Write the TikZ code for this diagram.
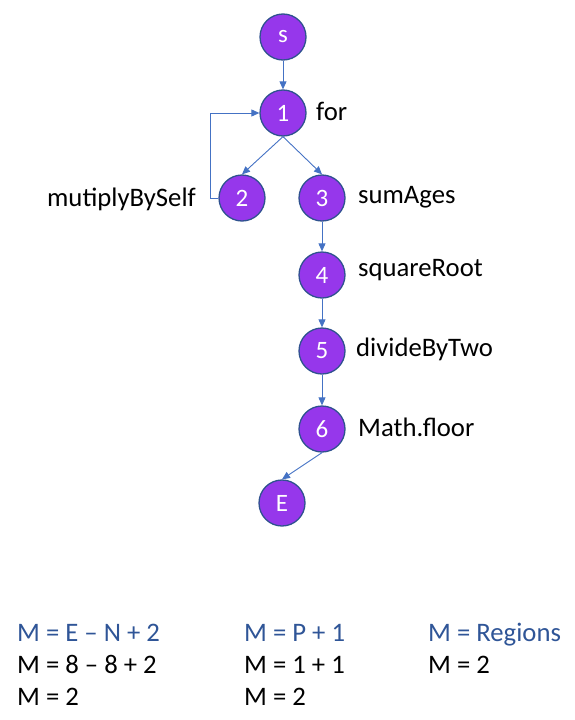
\documentclass[tikz,border=0pt]{standalone}
\usepackage{fontspec}
\setmainfont{Carlito}
\usetikzlibrary{arrows.meta}
\definecolor{nodefill}{RGB}{150,55,235}
\definecolor{nodeline}{RGB}{47,82,143}
\definecolor{arrowcol}{RGB}{68,114,196}
\definecolor{bluetext}{RGB}{47,85,151}
\begin{document}
\begin{tikzpicture}[x=1pt,y=-1pt,
  vnode/.style={circle,minimum size=46pt,inner sep=0pt,fill=nodefill,draw=nodeline,line width=1.3pt,text=white,font=\fontsize{25}{28}\selectfont},
  lbl/.style={anchor=base west,inner sep=0pt,font=\fontsize{26.7}{30}\selectfont},
  conn/.style={draw=arrowcol,line width=0.9pt,-{Triangle[length=8pt,width=7pt]}}]
\useasboundingbox (0,0) rectangle (574,720);
\node[vnode] (s) at (283,37) {s};
\node[vnode] (n1) at (283,113) {1};
\node[vnode] (n2) at (242,198) {2};
\node[vnode] (n3) at (322,198) {3};
\node[vnode] (n4) at (322,275) {4};
\node[vnode] (n5) at (322,351) {5};
\node[vnode] (n6) at (322,429) {6};
\node[vnode] (E) at (282,503) {E};
\node[lbl] (lfor) at (316,120) {for};
\node[lbl,anchor=base east] (lmul) at (196,206) {mutiplyBySelf};
\node[lbl] (lsum) at (358,203) {sumAges};
\node[lbl] (lsqr) at (358,276) {squareRoot};
\node[lbl] (ldiv) at (356,356) {divideByTwo};
\node[lbl] (lmat) at (358,436) {Math.floor};
\draw[conn] (s) -- (n1);
\draw[conn] (n1.south) -- (n2.north);
\draw[conn] (n1.south) -- (n3.north);
\draw[conn] (n3) -- (n4);
\draw[conn] (n4) -- (n5);
\draw[conn] (n5) -- (n6);
\draw[conn] (n6.south) -- (E.north);
\draw[conn] (n2.west) -- ++(-8,0) |- (n1.west);
\node[lbl,text=bluetext] (a1) at (17,641) {M = E – N + 2};
\node[lbl] (a2) at (17,673) {M = 8 – 8 + 2};
\node[lbl] (a3) at (17,705) {M = 2};
\node[lbl,text=bluetext] (b1) at (244,641) {M = P + 1};
\node[lbl] (b2) at (244,673) {M = 1 + 1};
\node[lbl] (b3) at (244,705) {M = 2};
\node[lbl,text=bluetext] (c1) at (428,641) {M = Regions};
\node[lbl] (c2) at (428,673) {M = 2};
\end{tikzpicture}
\end{document}
